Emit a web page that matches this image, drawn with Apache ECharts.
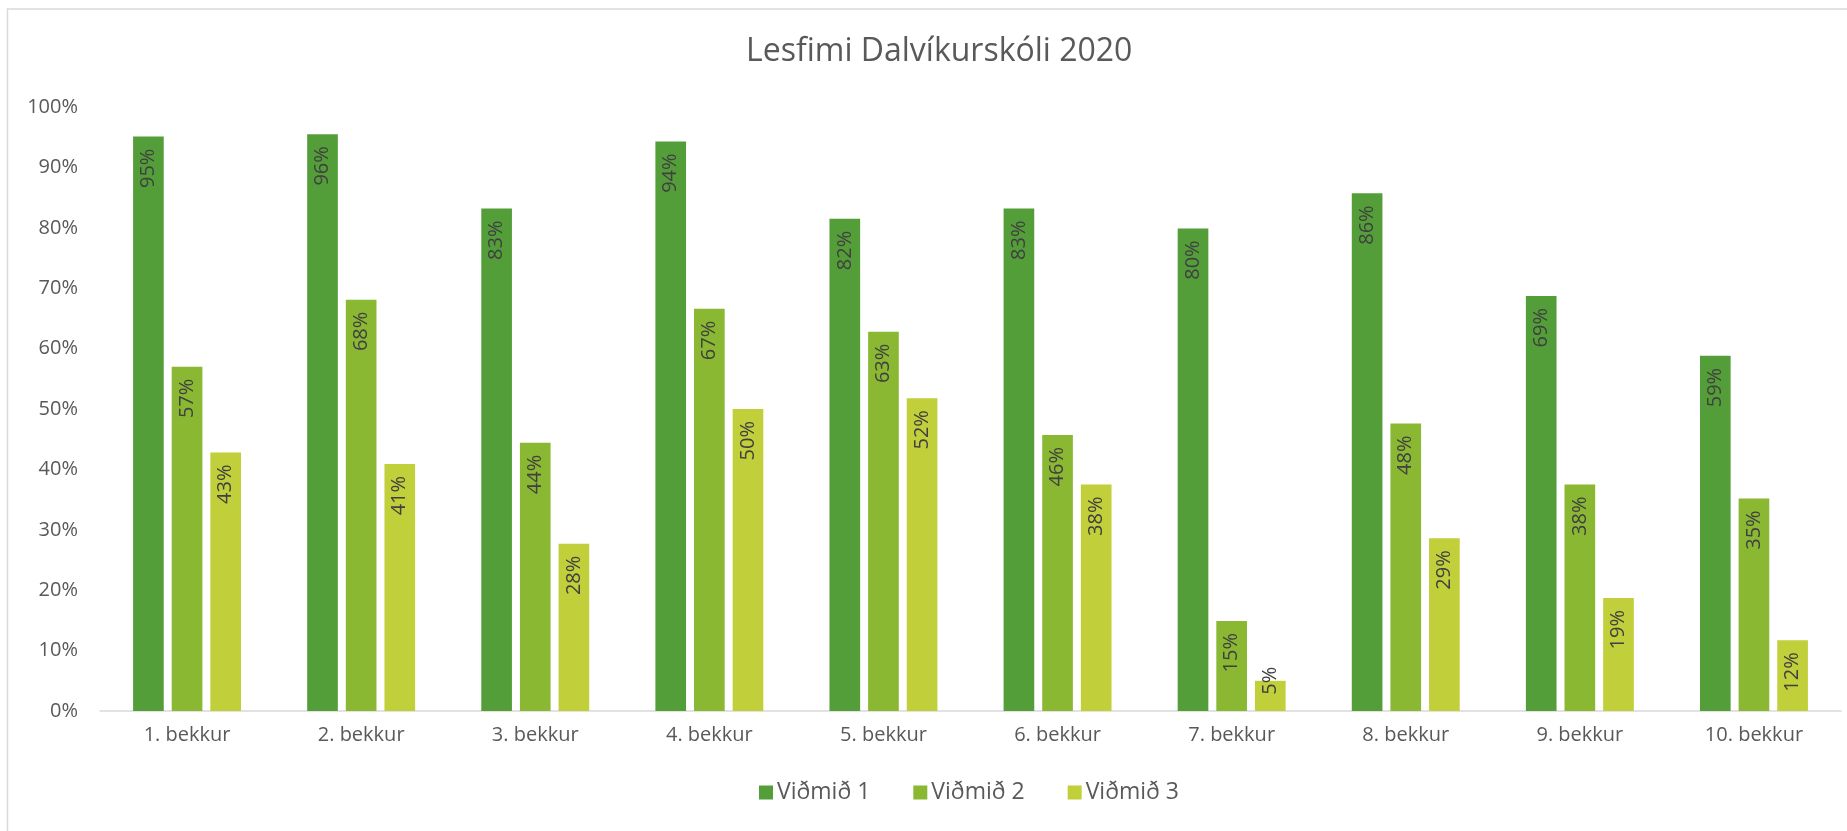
<!DOCTYPE html>
<html>
<head>
<meta charset="utf-8">
<script src="https://cdn.jsdelivr.net/npm/echarts@6/dist/echarts.min.js"></script>
<style>
  html, body { margin: 0; padding: 0; background: #fff; }
  #chart { width: 1847px; height: 831px; }
</style>
</head>
<body>
<div id="chart"></div>
<script>
const categories = ['1. bekkur', '2. bekkur', '3. bekkur', '4. bekkur', '5. bekkur',
  '6. bekkur', '7. bekkur', '8. bekkur', '9. bekkur', '10. bekkur'];
const seriesNames = ['Viðmið 1', 'Viðmið 2', 'Viðmið 3'];
const vidmid1 = [95.1, 95.5, 83.2, 94.3, 81.5, 83.2, 79.9, 85.7, 68.7, 58.8];
const vidmid2 = [57.0, 68.1, 44.4, 66.6, 62.8, 45.7, 14.9, 47.6, 37.5, 35.2];
const vidmid3 = [42.8, 40.9, 27.7, 50.0, 51.8, 37.5, 5.0, 28.6, 18.7, 11.7];
const yTicks = [0, 10, 20, 30, 40, 50, 60, 70, 80, 90, 100];

const colors = ['#549E39', '#8AB833', '#C0CF3A'];
const font = "'Open Sans', 'DejaVu Sans', sans-serif";

const chart = echarts.init(document.getElementById('chart'));

function makeSeries(name, values, color) {
  return {
    name: name,
    type: 'bar',
    barGap: '26%',
    barCategoryGap: '38%',
    itemStyle: { color: color },
    data: values.map((v) => {
      // small bars: Excel pushes the label up over the bar top
      if (v < 10) {
        return {
          value: v,
          label: { position: 'top', align: 'center', verticalAlign: 'middle', distance: 0 },
        };
      }
      return v;
    }),
    label: {
      show: true,
      position: 'insideTop',
      rotate: 90,
      align: 'right',
      verticalAlign: 'middle',
      distance: 12,
      color: '#404040',
      fontFamily: font,
      fontSize: 20,
      formatter: (p) => Math.round(p.value) + '%',
    },
  };
}

chart.setOption({
  animation: false,
  color: colors,
  title: {
    text: 'Lesfimi Dalvíkurskóli 2020',
    left: 741,
    top: 31,
    textStyle: {
      color: '#595959',
      fontFamily: font,
      fontWeight: 'normal',
      fontSize: 32,
    },
  },
  graphic: [
    {
      type: 'rect',
      shape: { x: 7.5, y: 9, width: 1860, height: 840 },
      style: { fill: 'none', stroke: '#d9d9d9', lineWidth: 1.5 },
      silent: true,
    },
  ],
  legend: {
    bottom: 22,
    left: 754,
    itemWidth: 14,
    itemHeight: 14,
    itemGap: 43,
    icon: 'rect',
    textStyle: {
      color: '#595959',
      fontFamily: font,
      fontSize: 23,
      padding: [0, 0, 0, -1],
    },
    data: seriesNames,
  },
  grid: {
    left: 100,
    right: 6,
    top: 107,
    bottom: 120,
  },
  xAxis: {
    type: 'category',
    data: categories,
    axisLine: { lineStyle: { color: '#d9d9d9', width: 1.5 } },
    axisTick: { show: false },
    axisLabel: {
      color: '#595959',
      fontFamily: font,
      fontSize: 20,
      margin: 14,
    },
  },
  yAxis: {
    type: 'value',
    min: yTicks[0],
    max: yTicks[yTicks.length - 1],
    interval: 10,
    axisLine: { show: false },
    axisTick: { show: false },
    splitLine: { show: false },
    axisLabel: {
      color: '#595959',
      fontFamily: font,
      fontSize: 20,
      margin: 22,
      formatter: (v) => v + '%',
    },
  },
  series: [
    makeSeries(seriesNames[0], vidmid1, colors[0]),
    makeSeries(seriesNames[1], vidmid2, colors[1]),
    makeSeries(seriesNames[2], vidmid3, colors[2]),
  ],
});
</script>
</body>
</html>
